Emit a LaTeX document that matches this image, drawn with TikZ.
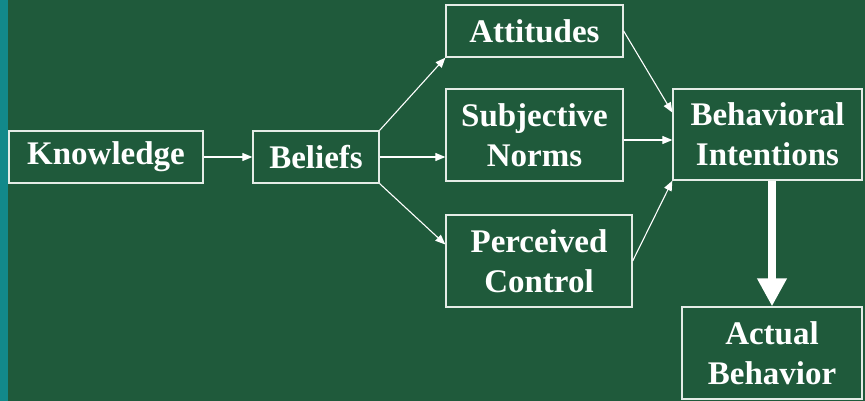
\documentclass[tikz,border=0pt]{standalone}
\usepackage{fontspec}
\setmainfont{Liberation Serif}
\usepackage{tikz}
\usetikzlibrary{arrows.meta, positioning, calc}
\definecolor{Marble}{HTML}{1F5A3B}
\definecolor{Strip}{HTML}{12898A}
\definecolor{Frame}{HTML}{E4ECE6}

\begin{document}
\begin{tikzpicture}[x=1pt, y=-1pt,
    box/.style={draw=Frame, line width=1.3pt, text=white, align=center,
        font=\fontsize{33}{40}\selectfont\bfseries, inner sep=0pt},
    flow/.style={draw=white, line width=1.1pt, -{Triangle[length=10pt, width=8pt]}},
    bigflow/.style={draw=white, line width=8pt, -{Triangle[length=28pt, width=28pt]}}]
    \useasboundingbox (0,0) rectangle (865,401);
    \fill[Marble] (0,0) rectangle (865,401);
    \fill[Strip] (0,0) rectangle (8,401);
    % boxes
    \node[box, minimum width=194pt, minimum height=52pt] (know) at (106,157) {Knowledge};
    \node[box, minimum width=126pt, minimum height=52pt] (beliefs) at (316,157) {Beliefs};
    \node[box, minimum width=177pt, minimum height=52pt] (att) at (534.5,31) {Attitudes};
    \node[box, minimum width=177pt, minimum height=92pt] (norms) at (534.5,135) {Subjective\\Norms};
    \node[box, minimum width=186pt, minimum height=92pt] (control) at (539,261) {Perceived\\Control};
    \node[box, minimum width=189pt, minimum height=91pt] (intent) at (767.5,134.5) {Behavioral\\Intentions};
    \node[box, minimum width=180pt, minimum height=92pt] (actual) at (772,353) {Actual\\Behavior};
    % arrows
    \draw[flow] (know) -- (beliefs);
    \draw[flow] (beliefs.north east) -- (att.south west);
    \draw[flow] (beliefs.east) -- (beliefs.east -| norms.west);
    \draw[flow] (beliefs.south east) -- (control.170);
    \draw[flow] (att.east) -- (intent.167);
    \draw[flow] ($(norms.east)+(0,5)$) -- ($(norms.east -| intent.west)+(0,5)$);
    \draw[flow] (control.east) -- (intent.south west);
    \draw[bigflow] (actual.north |- intent.south) -- (actual.north);
\end{tikzpicture}
\end{document}
